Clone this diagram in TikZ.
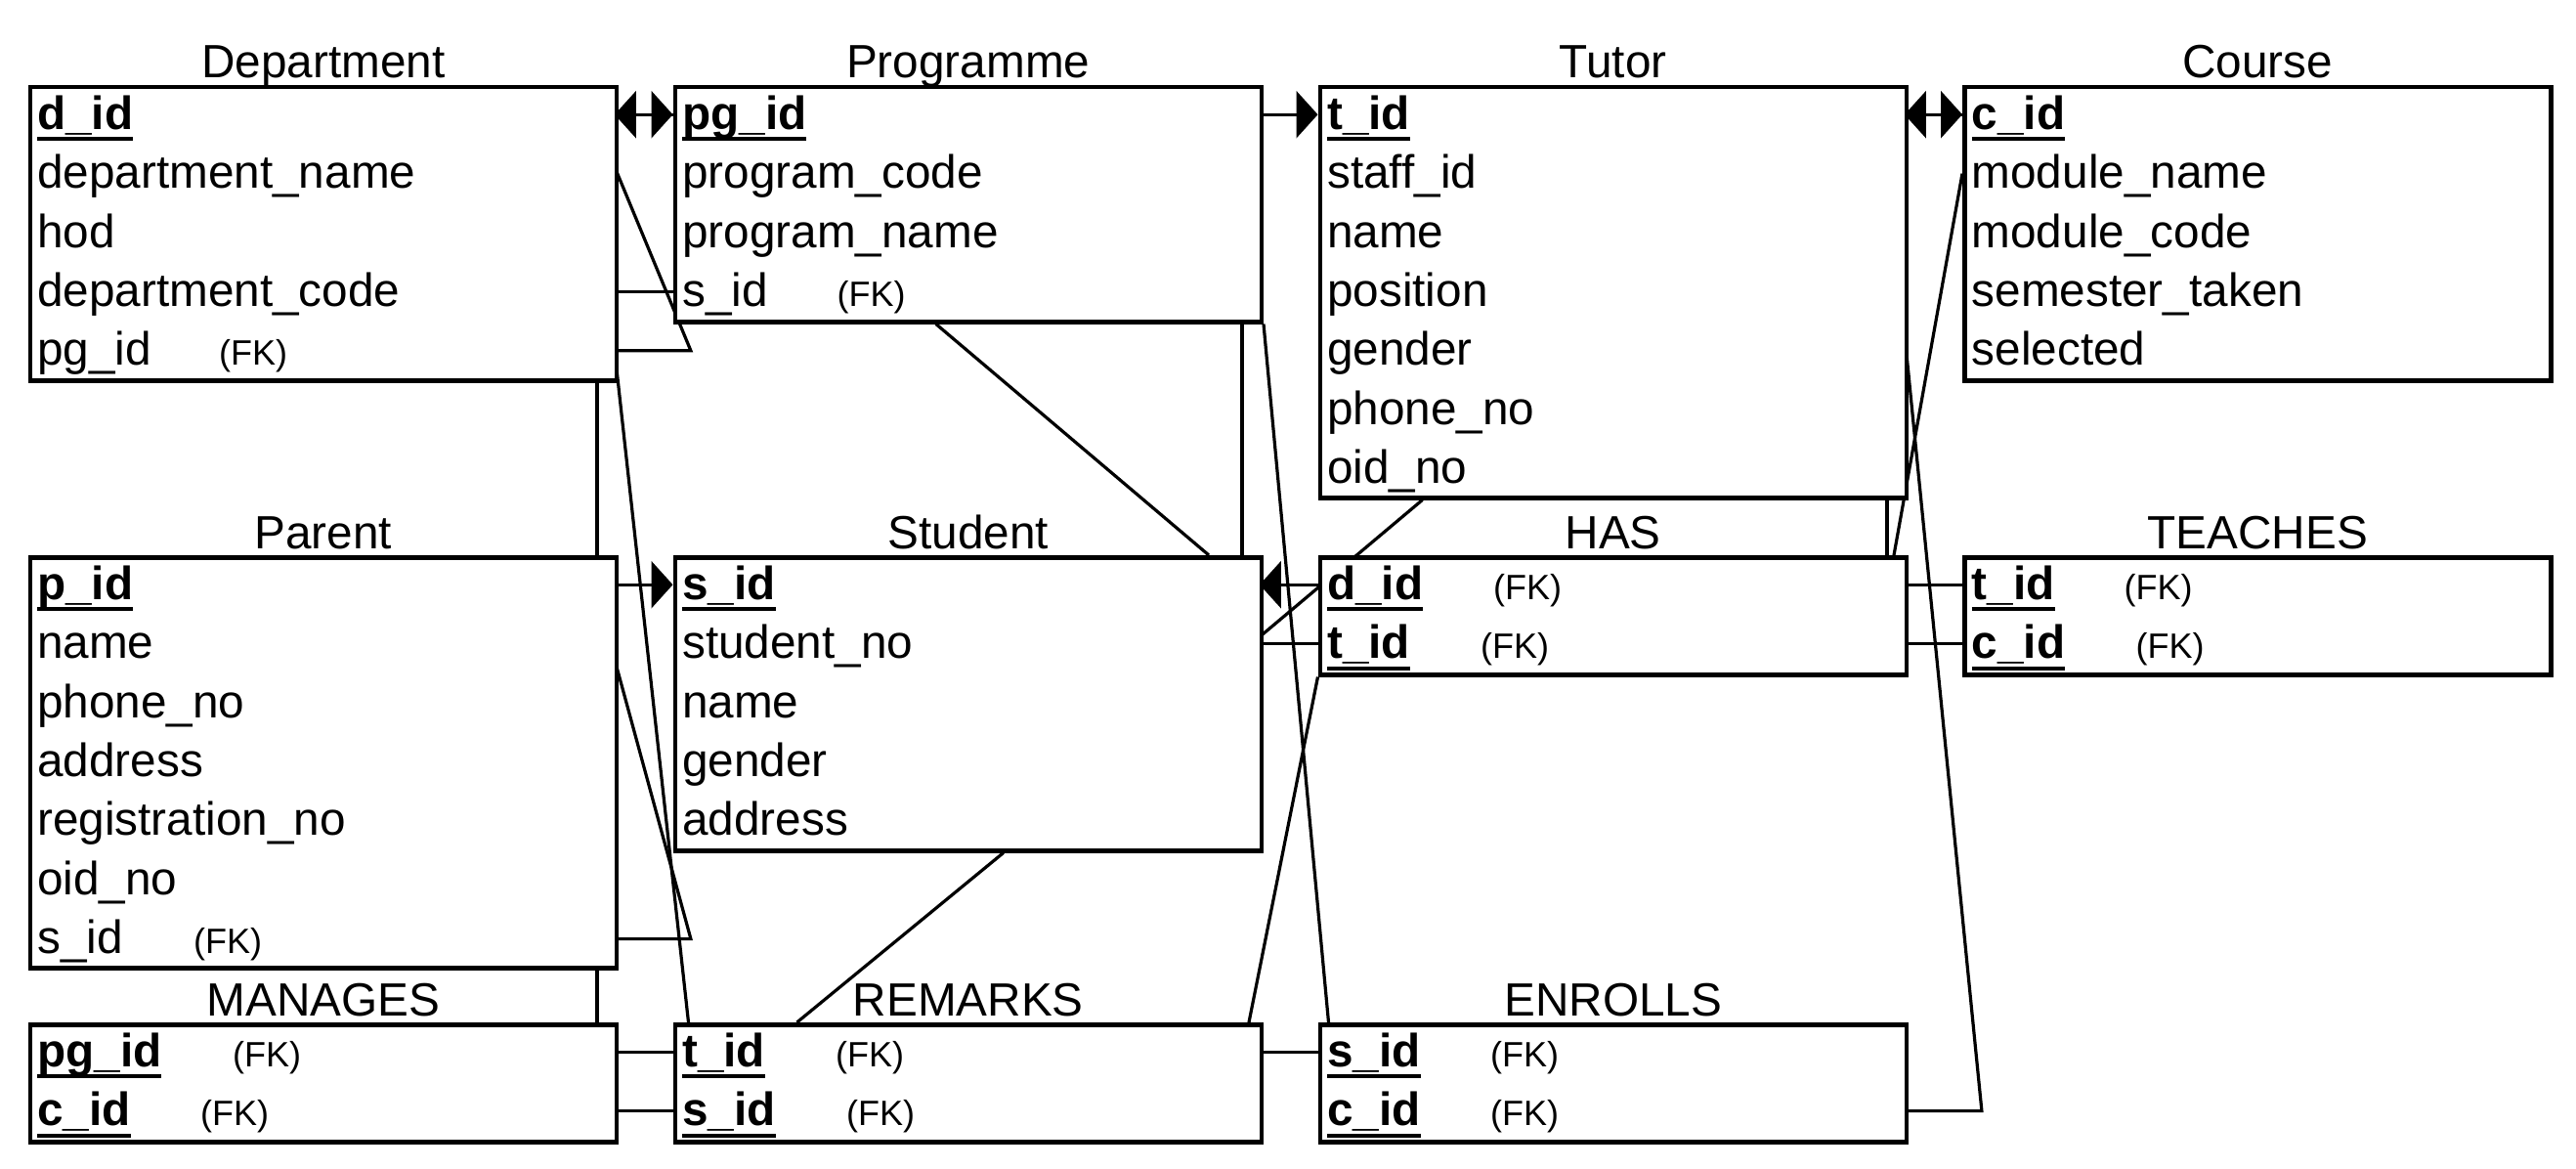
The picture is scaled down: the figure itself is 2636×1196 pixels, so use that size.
\documentclass[tikz,border=0pt]{standalone}
\usepackage{fontspec}
\setmainfont{Liberation Sans}
\usetikzlibrary{positioning,arrows.meta}

\newcommand{\rowfont}{\fontsize{47.7}{56}\selectfont}
\newcommand{\fksize}{\fontsize{36}{40}\selectfont}
\newsavebox{\keybox}
\newcommand{\keyattr}[1]{\sbox{\keybox}{\bfseries #1}\rlap{\vrule width\wd\keybox height -8pt depth 12pt}\usebox{\keybox}}
\newcommand{\withfk}[2]{\makebox[#1pt][l]{#2}{\fksize (FK)}}

\pgfdeclarelayer{links}
\pgfsetlayers{links,main}

\begin{document}
\begin{tikzpicture}[x=1pt,y=-1pt]
	%\draw[help lines] (0,0) grid (2636,1196);
	\tikzset{
		entity/.style={draw, line width=4.5pt, fill=white, anchor=north west, minimum width=600pt, inner sep=0pt},
		attr/.style={minimum width=600pt, minimum height=60pt, text width=581pt, inner xsep=9.5pt, inner ysep=0pt, align=left, font=\rowfont,
			execute at begin node={\leavevmode\vrule width 0pt height 45pt depth 15pt\relax}},
		heading/.style={font=\rowfont},
		rel/.style={line width=3.2pt},
		>={Triangle[length=22pt,width=48pt]}
	}
	\useasboundingbox (0,0) rectangle (2636,1196);
	
	% first row
	\node[entity, minimum height=300pt] (dep) at (28.5,87) {};
	\node[heading, above=7pt of dep.north, anchor=base] (dep-t) {Department};
	\node[attr, anchor=north west] (dep1) at (dep.north west) {\keyattr{d\_id}};
	\node[attr, below=0pt of dep1] (dep2) {department\_name};
	\node[attr, below=0pt of dep2] (dep3) {hod};
	\node[attr, below=0pt of dep3] (dep4) {department\_code};
	\node[attr, below=0pt of dep4] (dep5) {\withfk{186}{pg\_id}};
	
	\node[entity, minimum height=240pt] (prog) at (688.5,87) {};
	\node[heading, above=7pt of prog.north, anchor=base] (prog-t) {Programme};
	\node[attr, anchor=north west] (prog1) at (prog.north west) {\keyattr{pg\_id}};
	\node[attr, below=0pt of prog1] (prog2) {program\_code};
	\node[attr, below=0pt of prog2] (prog3) {program\_name};
	\node[attr, below=0pt of prog3] (prog4) {\withfk{158.5}{s\_id}};
	
	\node[entity, minimum height=420pt] (tut) at (1348.5,87) {};
	\node[heading, above=7pt of tut.north, anchor=base] (tut-t) {Tutor};
	\node[attr, anchor=north west] (tut1) at (tut.north west) {\keyattr{t\_id}};
	\node[attr, below=0pt of tut1] (tut2) {staff\_id};
	\node[attr, below=0pt of tut2] (tut3) {name};
	\node[attr, below=0pt of tut3] (tut4) {position};
	\node[attr, below=0pt of tut4] (tut5) {gender};
	\node[attr, below=0pt of tut5] (tut6) {phone\_no};
	\node[attr, below=0pt of tut6] (tut7) {oid\_no};
	
	\node[entity, minimum height=300pt] (crs) at (2008,87) {};
	\node[heading, above=7pt of crs.north, anchor=base] (crs-t) {Course};
	\node[attr, anchor=north west] (crs1) at (crs.north west) {\keyattr{c\_id}};
	\node[attr, below=0pt of crs1] (crs2) {module\_name};
	\node[attr, below=0pt of crs2] (crs3) {module\_code};
	\node[attr, below=0pt of crs3] (crs4) {semester\_taken};
	\node[attr, below=0pt of crs4] (crs5) {selected};
	
	% second row
	\node[entity, minimum height=420pt] (par) at (28.5,568) {};
	\node[heading, above=7pt of par.north, anchor=base] (par-t) {Parent};
	\node[attr, anchor=north west] (par1) at (par.north west) {\keyattr{p\_id}};
	\node[attr, below=0pt of par1] (par2) {name};
	\node[attr, below=0pt of par2] (par3) {phone\_no};
	\node[attr, below=0pt of par3] (par4) {address};
	\node[attr, below=0pt of par4] (par5) {registration\_no};
	\node[attr, below=0pt of par5] (par6) {oid\_no};
	\node[attr, below=0pt of par6] (par7) {\withfk{160}{s\_id}};
	
	\node[entity, minimum height=300pt] (stu) at (688.5,568) {};
	\node[heading, above=7pt of stu.north, anchor=base] (stu-t) {Student};
	\node[attr, anchor=north west] (stu1) at (stu.north west) {\keyattr{s\_id}};
	\node[attr, below=0pt of stu1] (stu2) {student\_no};
	\node[attr, below=0pt of stu2] (stu3) {name};
	\node[attr, below=0pt of stu3] (stu4) {gender};
	\node[attr, below=0pt of stu4] (stu5) {address};
	
	\node[entity, minimum height=120pt] (has) at (1348.5,568) {};
	\node[heading, above=7pt of has.north, anchor=base] (has-t) {HAS};
	\node[attr, anchor=north west] (has1) at (has.north west) {\withfk{170}{\keyattr{d\_id}}};
	\node[attr, below=0pt of has1] (has2) {\withfk{157}{\keyattr{t\_id}}};
	
	\node[entity, minimum height=120pt] (tea) at (2008,568) {};
	\node[heading, above=7pt of tea.north, anchor=base] (tea-t) {TEACHES};
	\node[attr, anchor=north west] (tea1) at (tea.north west) {\withfk{156}{\keyattr{t\_id}}};
	\node[attr, below=0pt of tea1] (tea2) {\withfk{168}{\keyattr{c\_id}}};
	
	% third row
	\node[entity, minimum height=120pt] (man) at (28.5,1046) {};
	\node[heading, above=7pt of man.north, anchor=base] (man-t) {MANAGES};
	\node[attr, anchor=north west] (man1) at (man.north west) {\withfk{200}{\keyattr{pg\_id}}};
	\node[attr, below=0pt of man1] (man2) {\withfk{167}{\keyattr{c\_id}}};
	
	\node[entity, minimum height=120pt] (rem) at (688.5,1046) {};
	\node[heading, above=7pt of rem.north, anchor=base] (rem-t) {REMARKS};
	\node[attr, anchor=north west] (rem1) at (rem.north west) {\withfk{157}{\keyattr{t\_id}}};
	\node[attr, below=0pt of rem1] (rem2) {\withfk{168}{\keyattr{s\_id}}};
	
	\node[entity, minimum height=120pt] (enr) at (1348.5,1046) {};
	\node[heading, above=7pt of enr.north, anchor=base] (enr-t) {ENROLLS};
	\node[attr, anchor=north west] (enr1) at (enr.north west) {\withfk{167}{\keyattr{s\_id}}};
	\node[attr, below=0pt of enr1] (enr2) {\withfk{167}{\keyattr{c\_id}}};
	
	\begin{pgfonlayer}{links}
		\fill[white] (0,0) rectangle (2636,1196);
		\draw[rel] ([xshift=-22pt]dep1.east) -- (prog1.west);
		\draw[rel, <->] (dep1.east) -- (prog1.west);
		\draw[rel] ([xshift=-22pt]dep4.east) -- (prog4.west);
		\draw[rel] ([yshift=7pt]dep2.east) -- ([xshift=78pt]dep5.east) -- (dep5.east);
		\draw[rel] (dep5.east) -- ([xshift=16pt]rem.north west);
		\draw[rel] ([xshift=-22pt]dep.south east) -- ([xshift=-22pt]man.north east);
		\draw[rel, ->] ([xshift=-22pt]par1.east) -- (stu1.west);
		\draw[rel] ([yshift=-16pt]par2.east) -- ([xshift=78pt]par7.east) -- (par7.east);
		\draw[rel, ->] ([xshift=-22pt]prog1.east) -- (tut1.west);
		\draw[rel] ([xshift=-33pt]prog.south) -- ([xshift=-56pt]stu.north east);
		\draw[rel] ([xshift=-22pt]prog.south east) -- ([xshift=-22pt]stu.north east);
		\draw[rel] (prog.south east) -- ([xshift=11pt]enr.north west);
		\draw[rel] ([xshift=-22pt]stu1.east) -- (has1.west);
		\draw[rel, <-] (stu1.east) -- (has1.west);
		\draw[rel] ([xshift=-22pt]stu2.east) -- (has2.west);
		\draw[rel] ([yshift=7pt]stu2.east) -- ([xshift=107pt]tut.south west);
		\draw[rel] (has.south west) -- ([xshift=-15pt]rem.north east);
		\draw[rel] ([xshift=36pt]stu.south) -- ([xshift=127pt]rem.north west);
		\draw[rel] ([xshift=-22pt]rem1.east) -- (enr1.west);
		\draw[rel] (man1.east) -- (rem1.west);
		\draw[rel] ([xshift=-22pt]man2.east) -- (rem2.west);
		\draw[rel] ([xshift=-22pt]tut1.east) -- (crs1.west);
		\draw[rel, <->] (tut1.east) -- (crs1.west);
		\draw[rel] ([xshift=-22pt]tut.south east) -- ([xshift=-22pt]has.north east);
		\draw[rel] (crs2.west) -- ([xshift=-15pt]has.north east);
		\draw[rel] ([yshift=17pt]tut5.east) -- ([xshift=79pt]enr2.east) -- (enr2.east);
		\draw[rel] ([xshift=-22pt]has1.east) -- (tea1.west);
		\draw[rel] ([xshift=-22pt]has2.east) -- (tea2.west);
	\end{pgfonlayer}
\end{tikzpicture}
\end{document}
